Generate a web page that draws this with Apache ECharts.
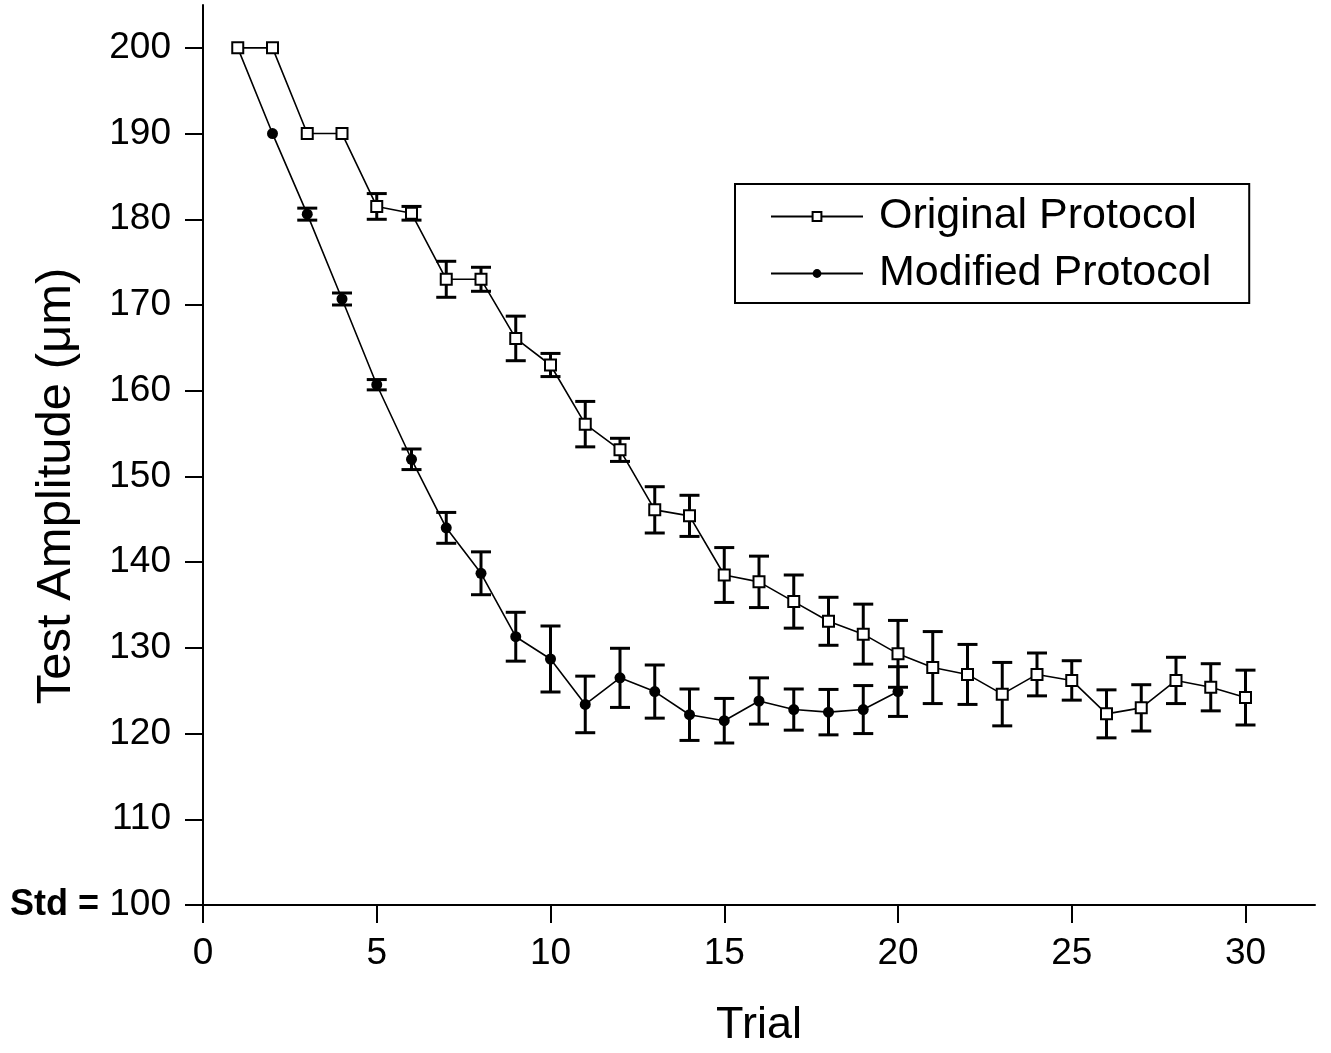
<!DOCTYPE html>
<html>
<head>
<meta charset="utf-8">
<script src="https://cdn.jsdelivr.net/npm/echarts@6/dist/echarts.min.js"></script>
<style>
html, body { margin: 0; padding: 0; background: #fff; }
#main { width: 1331px; height: 1053px; }
</style>
</head>
<body>
<div id="main"></div>
<script>
const origTrials = [1,2,3,4,5,6,7,8,9,10,11,12,13,14,15,16,17,18,19,20,21,22,23,24,25,26,27,28,29,30];
const origMean = [200, 200, 190, 190, 181.5, 180.7, 173.0, 173.0, 166.1, 163.0, 156.1, 153.1, 146.1, 145.4, 138.5,
	137.7, 135.4, 133.1, 131.6, 129.3, 127.7, 126.9, 124.6, 126.9, 126.2, 122.3, 123.0, 126.2, 125.4, 124.2];
const origErr = [0, 0, 0, 0, 1.5, 0.8, 2.1, 1.4, 2.6, 1.35, 2.65, 1.35, 2.7, 2.4, 3.2,
	3.0, 3.1, 2.8, 3.5, 3.9, 4.2, 3.5, 3.7, 2.5, 2.3, 2.8, 2.7, 2.7, 2.75, 3.2];

const modTrials = [1,2,3,4,5,6,7,8,9,10,11,12,13,14,15,16,17,18,19,20];
const modMean = [200, 190, 180.6, 170.7, 160.7, 152.0, 144.0, 138.7, 131.3, 128.7, 123.4, 126.5, 124.9, 122.2, 121.5,
	123.8, 122.8, 122.5, 122.8, 124.9];
const modErr = [0, 0, 0.7, 0.7, 0.6, 1.2, 1.8, 2.5, 2.85, 3.85, 3.3, 3.45, 3.1, 3.0, 2.6,
	2.7, 2.4, 2.65, 2.8, 2.9];

const xTicks = [0, 5, 10, 15, 20, 25, 30];
const yTicks = [100, 110, 120, 130, 140, 150, 160, 170, 180, 190, 200];

const font = "'Liberation Sans', Arial, sans-serif";

function pairs(xs, ys){
	const out = [];
	for(let i = 0; i < xs.length; i++){
		out.push([xs[i], ys[i]]);
	}
	return out;
}

function errData(xs, ys, es){
	const out = [];
	for(let i = 0; i < xs.length; i++){
		if(es[i] > 0){
			out.push([xs[i], ys[i] - es[i], ys[i] + es[i]]);
		}
	}
	return out;
}

function renderErr(params, api){
	const x = api.value(0);
	const lo = api.coord([x, api.value(1)]);
	const hi = api.coord([x, api.value(2)]);
	const hw = 10;
	const style = {stroke: "#000", lineWidth: 3};
	return {
		type: "group",
		children: [
			{type: "line", shape: {x1: hi[0], y1: hi[1], x2: lo[0], y2: lo[1]}, style: style},
			{type: "line", shape: {x1: hi[0] - hw, y1: hi[1], x2: hi[0] + hw, y2: hi[1]}, style: style},
			{type: "line", shape: {x1: lo[0] - hw, y1: lo[1], x2: lo[0] + hw, y2: lo[1]}, style: style}
		]
	};
}

var mychart = echarts.init(document.getElementById("main"));

const option = {
	backgroundColor: "#fff",
	animation: false,
	grid: {left: 203, right: 16, top: 5, bottom: 145},
	xAxis: {
		type: "value",
		min: 0,
		max: 32,
		interval: 5,
		splitLine: {show: false},
		axisLine: {lineStyle: {color: "#000", width: 2}},
		axisTick: {show: true, length: 18, lineStyle: {color: "#000", width: 2}, customValues: xTicks},
		axisLabel: {color: "#000", fontSize: 37, fontFamily: font, margin: 30, customValues: xTicks},
		name: "Trial",
		nameLocation: "middle",
		nameGap: 98,
		nameTextStyle: {color: "#000", fontSize: 45, fontFamily: font}
	},
	yAxis: {
		type: "value",
		min: 100,
		max: 205,
		interval: 10,
		splitLine: {show: false},
		axisLine: {show: true, lineStyle: {color: "#000", width: 2}},
		axisTick: {show: true, length: 18, lineStyle: {color: "#000", width: 2}, customValues: yTicks},
		axisLabel: {
			color: "#000", fontSize: 37, fontFamily: font, margin: 32, customValues: yTicks,
			formatter: function(v){
				if(v == 100){return "{b|Std =} 100";}
				return String(v);
			},
			rich: {b: {fontWeight: "bold", fontSize: 36, fontFamily: font, color: "#000"}}
		}
	},
	graphic: [{
		type: "text",
		x: 56,
		y: 486,
		rotation: Math.PI / 2,
		style: {
			text: "Test Amplitude (\u03bcm)",
			font: "49px " + font,
			fill: "#000",
			align: "center",
			verticalAlign: "middle"
		}
	}],
	legend: {
		orient: "vertical",
		left: 735,
		top: 184,
		padding: [11, 38, 8, 35],
		itemGap: 14,
		itemWidth: 92,
		itemHeight: 11,
		borderColor: "#000",
		borderWidth: 2,
		borderRadius: 0,
		textStyle: {color: "#000", fontSize: 43, fontFamily: font, padding: [0, 0, 0, 11]},
		data: ["Original Protocol", "Modified Protocol"]
	},
	series: [
		{
			type: "custom",
			name: "origErr",
			renderItem: renderErr,
			data: errData(origTrials, origMean, origErr),
			encode: {x: 0, y: [1, 2]},
			z: 1,
			silent: true
		},
		{
			type: "custom",
			name: "modErr",
			renderItem: renderErr,
			data: errData(modTrials, modMean, modErr),
			encode: {x: 0, y: [1, 2]},
			z: 1,
			silent: true
		},
		{
			type: "line",
			name: "Modified Protocol",
			data: pairs(modTrials, modMean),
			symbol: "circle",
			symbolSize: 11,
			lineStyle: {color: "#000", width: 1.6},
			itemStyle: {color: "#000", borderColor: "#000", borderWidth: 0},
			z: 3
		},
		{
			type: "line",
			name: "Original Protocol",
			data: pairs(origTrials, origMean),
			symbol: "rect",
			symbolSize: 11,
			lineStyle: {color: "#000", width: 1.6},
			itemStyle: {color: "#fff", borderColor: "#000", borderWidth: 2},
			z: 4
		}
	]
};
mychart.setOption(option);
</script>
</body>
</html>
